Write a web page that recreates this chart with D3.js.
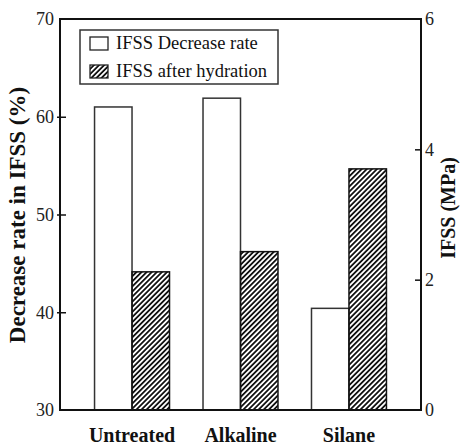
<html lang='en'>
<head>
<script src="https://d3js.org/d3.v7.min.js" charset="utf-8"></script>
<style>
  body { margin: 0; background: #fff; }
  text { font-family: 'Liberation Serif', 'Times New Roman', serif; }
</style>
</head>
<body>
<script>
// data
var categories = ["Untreated", "Alkaline", "Silane"];
var series = ["IFSS Decrease rate", "IFSS after hydration"];
var decreaseRate = [61.0, 61.9, 40.4];   // left axis, %
var ifssAfter = [2.12, 2.43, 3.70];      // right axis, MPa
var leftTicks = [30, 40, 50, 60, 70];
var rightTicks = [0, 2, 4, 6];

var width = 462, height = 446;
var margin = {top: 19, right: 41, bottom: 36, left: 60};
var x0 = margin.left, x1 = width - margin.right;
var y0 = height - margin.bottom, y1 = margin.top;

var svg = d3.select("body").append("svg")
    .attr("width", width)
    .attr("height", height);

// hatch pattern
var defs = svg.append("defs");
defs.append("pattern")
    .attr("id", "hatch")
    .attr("patternUnits", "userSpaceOnUse")
    .attr("width", 3.6)
    .attr("height", 3.6)
    .attr("patternTransform", "rotate(45)")
  .append("line")
    .attr("x1", 0.9).attr("y1", 0)
    .attr("x2", 0.9).attr("y2", 3.6)
    .attr("stroke", "#111")
    .attr("stroke-width", 1.8);

var x = d3.scaleBand().domain(categories).range([x0, x1])
    .paddingInner(0).paddingOuter(0.164);
var xs = d3.scaleBand().domain(series).range([0, x.bandwidth()])
    .paddingInner(0).paddingOuter(0.447);

var yL = d3.scaleLinear().domain([30, 70]).range([y0, y1]);
var yR = d3.scaleLinear().domain([0, 6]).range([y0, y1]);

// bars
var g = svg.append("g");
categories.forEach(function(c, i) {
  g.append("rect")
    .attr("x", x(c) + xs(series[0]))
    .attr("y", yL(decreaseRate[i]))
    .attr("width", xs.bandwidth())
    .attr("height", yL(30) - yL(decreaseRate[i]))
    .attr("fill", "#fff")
    .attr("stroke", "#333")
    .attr("stroke-width", 1.5);
  g.append("rect")
    .attr("x", x(c) + xs(series[1]))
    .attr("y", yR(ifssAfter[i]))
    .attr("width", xs.bandwidth())
    .attr("height", yR(0) - yR(ifssAfter[i]))
    .attr("fill", "url(#hatch)")
    .attr("stroke", "#111")
    .attr("stroke-width", 1.5);
});

// frame
svg.append("rect")
    .attr("x", x0).attr("y", y1)
    .attr("width", x1 - x0).attr("height", y0 - y1)
    .attr("fill", "none")
    .attr("stroke", "#111")
    .attr("stroke-width", 2);

// axes
var axL = svg.append("g")
    .attr("transform", "translate(" + x0 + ",0)")
    .call(d3.axisLeft(yL).tickValues(leftTicks).tickFormat(d3.format("d"))
      .tickSize(-6).tickPadding(6).tickSizeOuter(0));
var axR = svg.append("g")
    .attr("transform", "translate(" + x1 + ",0)")
    .call(d3.axisRight(yR).tickValues(rightTicks).tickFormat(d3.format("d"))
      .tickSize(-6).tickPadding(4).tickSizeOuter(0));
[axL, axR].forEach(function(a) {
  a.select(".domain").remove();
  a.selectAll(".tick line").attr("stroke", "#111").attr("stroke-width", 1.5);
  a.selectAll(".tick text")
    .attr("font-family", "'Liberation Serif', serif")
    .attr("font-size", 18)
    .attr("fill", "#222");
});
axL.selectAll(".tick line").attr("x1", -3);
axR.selectAll(".tick line").attr("x1", 0);
axL.selectAll(".tick").filter(function(d) { return d === 30 || d === 70; }).select("line").remove();
axR.selectAll(".tick").filter(function(d) { return d === 0 || d === 6; }).select("line").remove();

// category labels
svg.selectAll(".cat")
  .data(categories)
  .enter().append("text")
    .attr("x", function(d) { return x(d) + x.bandwidth() / 2; })
    .attr("y", 442)
    .attr("text-anchor", "middle")
    .attr("font-size", 20)
    .attr("font-weight", "bold")
    .attr("fill", "#111")
    .text(function(d) { return d; });

// axis titles
svg.append("text")
    .attr("transform", "translate(25,215) rotate(-90)")
    .attr("text-anchor", "middle")
    .attr("font-size", 23)
    .attr("font-weight", "bold")
    .attr("fill", "#111")
    .text("Decrease rate in IFSS (%)");
svg.append("text")
    .attr("transform", "translate(455,208) rotate(-90)")
    .attr("text-anchor", "middle")
    .attr("font-size", 20)
    .attr("font-weight", "bold")
    .attr("fill", "#111")
    .text("IFSS (MPa)");

// legend
var lg = svg.append("g");
lg.append("rect")
    .attr("x", 80).attr("y", 30)
    .attr("width", 198).attr("height", 54)
    .attr("fill", "#fff")
    .attr("stroke", "#333")
    .attr("stroke-width", 1.5);
var fills = ["#fff", "url(#hatch)"];
series.forEach(function(s, i) {
  lg.append("rect")
    .attr("x", 90).attr("y", 37 + i * 28)
    .attr("width", 18).attr("height", 13)
    .attr("fill", fills[i])
    .attr("stroke", "#222")
    .attr("stroke-width", 1.3);
  lg.append("text")
    .attr("x", 116).attr("y", 49 + i * 28)
    .attr("font-size", 18.5)
    .attr("fill", "#111")
    .text(s);
});
</script>
</body>
</html>
